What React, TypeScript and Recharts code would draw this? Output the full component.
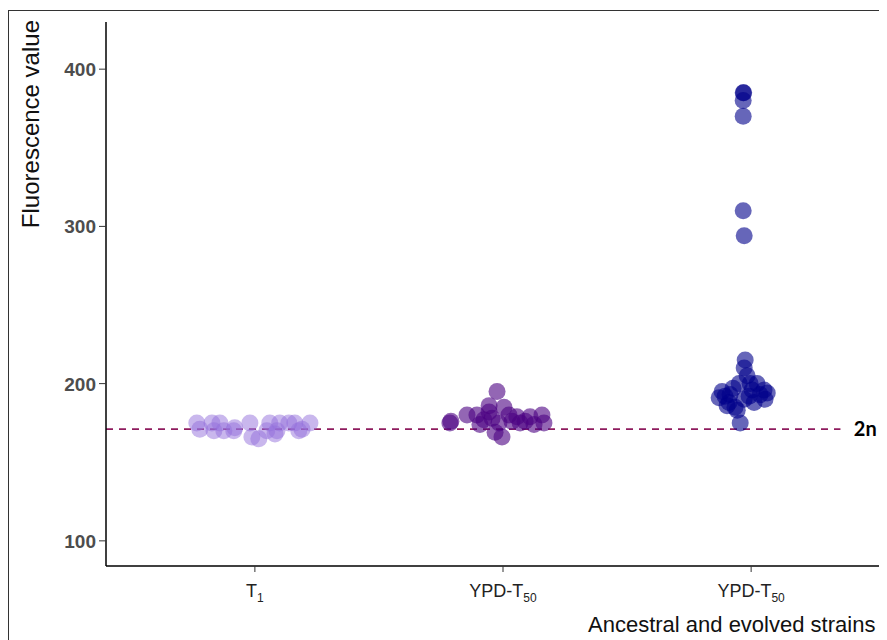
import { ScatterChart, Scatter, XAxis, YAxis, ReferenceLine, ReferenceDot } from 'recharts';

// x-axis categories (base text + subscript)
const categories = [
  { base: 'T', sub: '1' },
  { base: 'YPD-T', sub: '50' },
  { base: 'YPD-T', sub: '50' },
];
const xTicks = [1, 2, 3];
const yTicks = [100, 200, 300, 400];
const ploidyLevel = 171;

// fluorescence values per strain group, with horizontal jitter offsets
const ancestralValues = [175, 175, 175, 172, 175, 175, 175, 175, 175, 175, 171, 170, 170, 170, 166, 170, 170, 170, 165, 168, 171];
const ancestralJitter = [-0.234, -0.173, -0.141, -0.081, -0.02, 0.06, 0.1, 0.137, 0.161, 0.222, -0.222, -0.165, -0.125, -0.085, -0.012, 0.048, 0.089, 0.177, 0.016, 0.081, 0.19];

const ypdAValues = [175, 176, 180, 195, 186, 185, 177, 178, 175, 169, 166, 180, 179, 175, 179, 174, 180, 175, 174, 180, 182, 176, 176];
const ypdAJitter = [-0.214, -0.21, -0.145, -0.024, -0.056, 0.004, -0.077, -0.044, -0.016, -0.032, -0.004, 0.024, 0.056, 0.069, 0.109, 0.125, 0.157, 0.165, -0.093, -0.105, -0.056, 0.036, 0.089];

const ypdBValues = [385, 385, 380, 370, 310, 294, 215, 210, 205, 200, 195, 191, 193, 188, 185, 190, 196, 200, 196, 194, 190, 192, 188, 175, 186, 183, 200, 197, 192, 193];
const ypdBJitter = [-0.032, -0.03, -0.032, -0.032, -0.032, -0.028, -0.024, -0.028, -0.016, -0.048, -0.117, -0.129, -0.085, -0.089, -0.065, -0.028, 0.004, 0.024, 0.052, 0.065, 0.056, -0.008, 0.012, -0.044, -0.097, -0.056, -0.004, -0.073, -0.105, 0.036];

const toPoints = (values: number[], jitter: number[], pos: number) =>
  values.map((v, i) => ({ x: pos + jitter[i], y: v }));

const ancestralData = toPoints(ancestralValues, ancestralJitter, 1);
const ypdAData = toPoints(ypdAValues, ypdAJitter, 2);
const ypdBData = toPoints(ypdBValues, ypdBJitter, 3);

const FONT = '"Liberation Sans", Arial, sans-serif';

const dot = (color: string, opacity: number) => (p: any) => (
  <circle cx={p.cx} cy={p.cy} r={8.5} fill={color} fillOpacity={opacity} />
);

const XTick = (props: any) => {
  const { x, y, payload } = props;
  const cat = categories[payload.value - 1];
  if (!cat) return null;
  return (
    <text x={x} y={y + 23} textAnchor="middle" fontSize={18} fill="#222" fontFamily={FONT}>
      {cat.base}
      <tspan dy={5} fontSize={12}>{cat.sub}</tspan>
    </text>
  );
};

const YTick = (props: any) => {
  const { x, y, payload } = props;
  return (
    <text x={x} y={y + 7} textAnchor="end" fontSize={19} fontWeight="bold" fill="#4d4d4d" fontFamily={FONT}>
      {payload.value}
    </text>
  );
};

const XTitle = (props: any) => {
  const vb = props.viewBox;
  return (
    <text x={580} y={vb.y + 66} textAnchor="start" fontSize={22} fill="#111" fontFamily={FONT}>
      Ancestral and evolved strains
    </text>
  );
};

const YTitle = () => (
  <text x={31} y={12} transform="rotate(-90, 31, 12)" textAnchor="end" fontSize={24} fill="#111" fontFamily={FONT}>
    Fluorescence value
  </text>
);

export default function App() {
  return (
    <div style={{ position: 'relative', width: 879, height: 632, overflow: 'hidden', background: '#fff' }}>
      <div style={{ position: 'absolute', left: 0, top: 2, width: 1000, height: 1000, border: '1px solid #333' }} />
      <div style={{ position: 'absolute', left: 0, top: 0 }}>
        <ScatterChart width={904} height={660} margin={{ top: 14, right: 12, bottom: 0, left: 0 }}>
          <XAxis
            type="number"
            dataKey="x"
            domain={[0.4, 3.6]}
            ticks={xTicks}
            allowDataOverflow
            height={102}
            stroke="#000"
            strokeWidth={1.5}
            tickSize={6}
            tickLine={{ stroke: '#333', strokeWidth: 1 }}
            tick={<XTick />}
            label={<XTitle />}
          />
          <YAxis
            type="number"
            dataKey="y"
            domain={[84, 430]}
            ticks={yTicks}
            allowDataOverflow
            width={98}
            stroke="#000"
            strokeWidth={1.5}
            tickSize={7}
            tickMargin={3}
            tickLine={{ stroke: '#333', strokeWidth: 1 }}
            tick={<YTick />}
            label={<YTitle />}
          />
          <Scatter data={ancestralData} shape={dot('#9370DB', 0.5)} isAnimationActive={false} />
          <Scatter data={ypdAData} shape={dot('#4B0082', 0.6)} isAnimationActive={false} />
          <Scatter data={ypdBData} shape={dot('#00008B', 0.6)} isAnimationActive={false} />
          <ReferenceLine
            segment={[{ x: 0.4, y: ploidyLevel }, { x: 3.36, y: ploidyLevel }]}
            stroke="#8E1B5E"
            strokeWidth={1.8}
            strokeDasharray="7 6"
          />
          <ReferenceDot
            x={3.46}
            y={ploidyLevel}
            r={0}
            shape={(p: any) => (
              <text x={p.cx} y={p.cy + 7} textAnchor="middle" fontSize={20} fontWeight="bold" fill="#000" fontFamily="Lato, sans-serif">
                2n
              </text>
            )}
          />
        </ScatterChart>
      </div>
    </div>
  );
}
